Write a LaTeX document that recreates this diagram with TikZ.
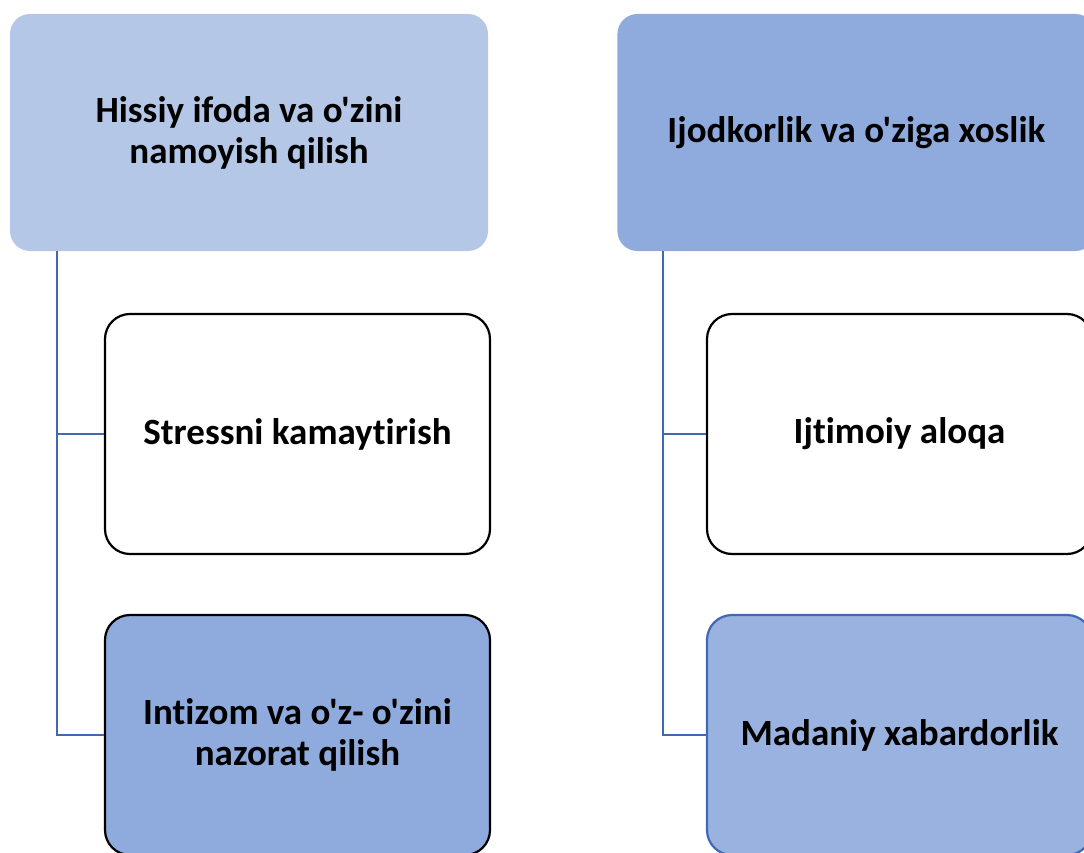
\documentclass[tikz,border=0pt]{standalone}
\usepackage{fontspec}
\setmainfont{Carlito}[Ligatures={TeXOff,NoCommon}]
\usepackage{xcolor}
\usepackage{tikz}
\usetikzlibrary{positioning}

\definecolor{lightblue}{HTML}{B4C7E7}
\definecolor{midblue}{HTML}{8FAADC}
\definecolor{paleblue}{HTML}{9AB2E0}
\definecolor{linkblue}{HTML}{4068B5}

\begin{document}
\begin{tikzpicture}[
    x=1pt, y=-1pt,
    headbox/.style={rectangle, rounded corners=20pt, minimum width=478pt, minimum height=237pt, align=center, font=\fontsize{37}{41}\selectfont\bfseries},
    itembox/.style={rectangle, rounded corners=25pt, draw=black, line width=2.2pt, minimum width=385pt, minimum height=240pt, align=center, font=\fontsize{37}{41}\selectfont\bfseries},
    link/.style={draw=linkblue, line width=2pt}
]
\useasboundingbox (0,0) rectangle (1084,853);
\clip (0,0) rectangle (1084,853);

% Top boxes
\node[headbox, fill=lightblue] (hissiy) at (249,132.5) {Hissiy ifoda va o'zini\\namoyish qilish};
\node[headbox, fill=midblue, right=129pt of hissiy] (ijod) {Ijodkorlik va o'ziga xoslik};

% Left branch
\node[itembox, fill=white] (stress) at (297.5,434) {Stressni kamaytirish};
\node[itembox, fill=midblue] (intizom) at (297.5,735) {Intizom va o'z- o'zini\\nazorat qilish};

% Right branch
\node[itembox, fill=white] (ijtimoiy) at (899.5,434) {Ijtimoiy aloqa};
\node[itembox, fill=paleblue, draw=linkblue] (madaniy) at (899.5,735) {Madaniy xabardorlik};

% Connectors
\draw[link] ([xshift=47pt]hissiy.south west) |- (stress.west);
\draw[link] ([xshift=47pt]hissiy.south west) |- (intizom.west);
\draw[link] ([xshift=46pt]ijod.south west) |- (ijtimoiy.west);
\draw[link] ([xshift=46pt]ijod.south west) |- (madaniy.west);

\end{tikzpicture}
\end{document}
